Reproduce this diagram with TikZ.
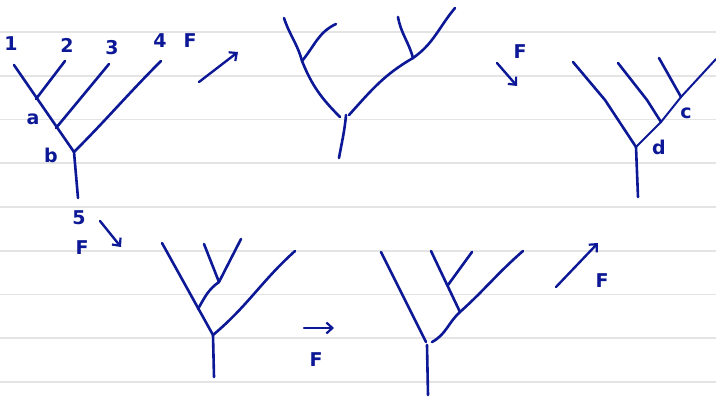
\documentclass[tikz,border=0pt]{standalone}
\usepackage{fontspec}
\setmainfont{DejaVu Sans}
\usetikzlibrary{arrows.meta}
\definecolor{ink}{RGB}{12,24,150}
\definecolor{rule}{RGB}{228,228,228}
\begin{document}
\begin{tikzpicture}[x=1pt,y=-1pt,
  pen/.style={draw=ink,line width=2.6pt,line cap=round,line join=round},
  thinpen/.style={pen,line width=2pt},
  lbl/.style={text=ink,font=\fontsize{19}{19}\selectfont\bfseries,inner sep=0pt},
  flow/.style={pen,line width=2.4pt,-{Straight Barb[length=6pt,width=11pt,line width=2.2pt]}},
  ruleline/.style={draw=rule,line width=1.5pt}]
\useasboundingbox (0,0) rectangle (716,397);
\fill[white] (0,0) rectangle (716,397);
\foreach \yy in {32,76,119.5,163,207,251,294.5,338,382}
  \draw[ruleline] (0,\yy) -- (716,\yy);

% ---------- tree 1 ----------
\coordinate (t1l1) at (14,65);
\coordinate (t1l2) at (65,61);
\coordinate (t1l3) at (109,64);
\coordinate (t1l4) at (161,61);
\coordinate (t1a) at (36,99);
\coordinate (t1j3) at (56,128);
\coordinate (t1b) at (74,152);
\coordinate (t1r) at (78,198);
\draw[pen] (t1l1) -- (t1b);
\draw[pen] (t1l2) -- (t1a);
\draw[pen] (t1l3) -- (t1j3);
\draw[pen] (t1l4) to[out=225,in=45] (t1b);
\draw[pen] (t1b) -- (t1r);
\node[lbl] (n1) at (11,44) {1};
\node[lbl] (n2) at (67,45) {2};
\node[lbl] (n3) at (112,48) {3};
\node[lbl] (n4) at (160,41) {4};
\node[lbl] (f1) at (190,41) {F};
\node[lbl] (na) at (33,119) {a};
\node[lbl] (nb) at (51,155) {b};
\node[lbl] (n5) at (79,218) {5};
\node[lbl] (f2) at (82,248) {F};

% arrow 1
\coordinate (a1s) at (199,82);
\coordinate (a1e) at (238,52);
\draw[flow] (a1s) -- (a1e);
% arrow 2
\coordinate (a2s) at (100,221);
\coordinate (a2e) at (121,247);
\draw[flow] (a2s) -- (a2e);

% ---------- tree 2 ----------
\coordinate (t2l1) at (284,18);
\coordinate (t2l2) at (336,24);
\coordinate (t2j1) at (302,61);
\coordinate (t2l3) at (398,17);
\coordinate (t2l4) at (455,8);
\coordinate (t2j2) at (413,58);
\coordinate (t2jl) at (340,117);
\coordinate (t2jr) at (349,115);
\coordinate (t2r) at (339,158);
\draw[pen] (t2l1) to[out=-72,in=105] (t2j1);
\draw[pen] (t2l2) to[out=205,in=50] (t2j1);
\draw[pen] (t2j1) to[out=-68,in=135] (t2jl);
\draw[pen] (t2l3) to[out=-80,in=105] (t2j2);
\draw[pen] (t2l4) to[out=230,in=35] (t2j2);
\draw[pen] (t2j2) to[out=210,in=48] (t2jr);
\draw[pen] (346,115) to[out=-95,in=80] (t2r);

% arrow 3
\node[lbl] (f3) at (520,52) {F};
\coordinate (a3s) at (497,63);
\coordinate (a3e) at (517,86);
\draw[flow] (a3s) -- (a3e);

% ---------- tree 3 ----------
\coordinate (t3l1) at (573,62);
\coordinate (t3k1) at (605,100);
\coordinate (t3l2) at (618,63);
\coordinate (t3k2) at (647,100);
\coordinate (t3d) at (661,122);
\coordinate (t3l3) at (659,58);
\coordinate (t3c) at (681,97);
\coordinate (t3l4) at (716,59);
\coordinate (t3b) at (636,147);
\coordinate (t3r) at (638,197);
\draw[pen] (t3l1) -- (t3k1) -- (t3b);
\draw[pen] (t3l2) -- (t3k2) -- (t3d);
\draw[pen] (t3l3) -- (t3c);
\draw[thinpen] (t3l4) -- (t3c) -- (t3d) -- (t3b);
\draw[pen] (t3b) -- (t3r);
\node[lbl] (nc) at (686,113) {c};
\node[lbl] (nd) at (659,147) {d};

% ---------- tree 4 ----------
\coordinate (t4l1) at (162,243);
\coordinate (t4l2) at (204,244);
\coordinate (t4l3) at (241,239);
\coordinate (t4j) at (219,282);
\coordinate (t4k) at (198,309);
\coordinate (t4l4) at (295,251);
\coordinate (t4b) at (213,335);
\coordinate (t4r) at (214,377);
\draw[pen] (t4l1) -- (t4b);
\draw[pen] (t4l2) -- (t4j);
\draw[pen] (t4l3) -- (t4j);
\draw[pen] (t4j) to[out=215,in=60] (t4k);
\draw[pen] (t4l4) to[out=222,in=40] (t4b);
\draw[pen] (t4b) -- (t4r);

% arrow 4
\coordinate (a4s) at (304,328);
\coordinate (a4e) at (334,328);
\draw[flow] (a4s) -- (a4e);
\node[lbl] (f4) at (316,360) {F};

% ---------- tree 5 ----------
\coordinate (t5l1) at (381,252);
\coordinate (t5b) at (426,342);
\coordinate (t5l2) at (431,251);
\coordinate (t5j) at (460,312);
\coordinate (t5l3) at (472,252);
\coordinate (t5k) at (448,285);
\coordinate (t5l4) at (523,251);
\coordinate (t5br) at (432,342);
\coordinate (t5r) at (428,395);
\draw[pen] (t5l1) -- (t5b);
\draw[pen] (t5l2) -- (t5j);
\draw[pen] (t5l3) -- (t5k);
\draw[pen] (t5l4) to[out=221,in=42] (t5j) to[out=222,in=28] (t5br);
\draw[pen] (427,345) -- (t5r);

% arrow 5
\coordinate (a5s) at (556,287);
\coordinate (a5e) at (598,243);
\draw[flow] (a5s) -- (a5e);
\node[lbl] (f5) at (602,281) {F};
\end{tikzpicture}
\end{document}
